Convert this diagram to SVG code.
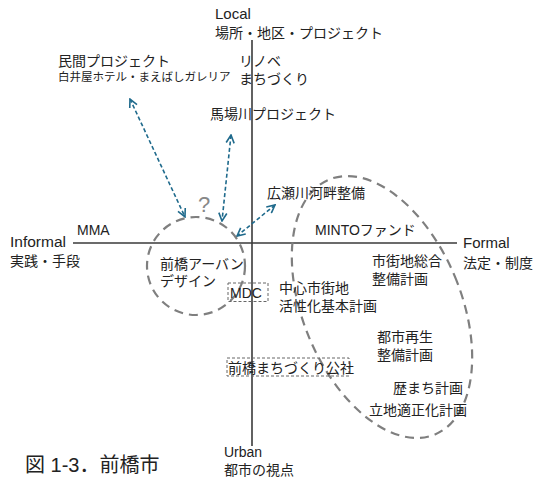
<svg xmlns="http://www.w3.org/2000/svg" width="536" height="481" viewBox="0 0 536 481">
<defs>
<style>
text{font-family:"Liberation Sans","Noto Sans CJK JP",sans-serif;fill:#222;font-size:14px}
.s{font-size:11.5px}
.axis{stroke:#3a3a3a;stroke-width:1.6;fill:none}
.grp{stroke:#7f7f7f;stroke-width:2.2;stroke-dasharray:9 6;fill:none}
.box{stroke:#666;stroke-width:1;stroke-dasharray:3 2;fill:none}
.arr{stroke:#1f6a8c;stroke-width:1.6;stroke-dasharray:4 2.5;fill:none;marker-start:url(#h);marker-end:url(#h)}
</style>
<marker id="h" viewBox="0 0 10 10" refX="9" refY="5" markerWidth="10" markerHeight="10" markerUnits="userSpaceOnUse" orient="auto-start-reverse">
<path d="M1,1 L9,5 L1,9" fill="none" stroke="#1f6a8c" stroke-width="1.6"/>
</marker>
</defs>
<rect width="536" height="481" fill="#fff"/>
<g id="axes">
<line class="axis" x1="252" y1="40" x2="252" y2="446"/>
<line class="axis" x1="73" y1="243" x2="457" y2="243"/>
</g>
<g id="connectors">
<line class="arr" x1="130" y1="99" x2="185" y2="217"/>
<line class="arr" x1="231" y1="135" x2="222" y2="221"/>
<line class="arr" x1="275" y1="205" x2="237" y2="236"/>
</g>
<g id="informal-group">
<circle class="grp" cx="196" cy="266" r="49"/>
</g>
<g id="formal-group">
<ellipse class="grp" cx="382" cy="307" rx="79" ry="138" transform="rotate(-22.6 382 307)"/>
</g>
<g id="axis-labels">
<text x="215" y="19" style="font-size:15px">Local</text>
<text x="215" y="38">場所・地区・プロジェクト</text>
<text x="10" y="247" style="font-size:15.5px">Informal</text>
<text x="10" y="266">実践・手段</text>
<text x="463" y="248" style="font-size:15px">Formal</text>
<text x="463" y="268">法定・制度</text>
<text x="224" y="457">Urban</text>
<text x="224" y="475">都市の視点</text>
</g>
<g id="caption"><text x="25" y="472" style="font-size:20px">図 1-3．前橋市</text></g>
<g id="minkan">
<text x="58" y="66">民間プロジェクト</text>
<text class="s" x="58" y="81">白井屋ホテル・まえばしガレリア</text>
</g>
<g id="renove">
<text x="239" y="66">リノベ</text>
<text x="239" y="84">まちづくり</text>
</g>
<g id="babagawa"><text x="210" y="119">馬場川プロジェクト</text></g>
<g id="hirosegawa"><text x="267" y="198">広瀬川河畔整備</text></g>
<g id="question"><text x="198" y="212" style="font-size:22px;fill:#888">?</text></g>
<g id="mma"><text x="77" y="235">MMA</text></g>
<g id="minto"><text x="315" y="235">MINTOファンド</text></g>
<g id="urbandesign">
<text x="160" y="269">前橋アーバン</text>
<text x="160" y="286">デザイン</text>
</g>
<g id="mdc">
<rect class="box" x="228" y="283" width="40" height="18.5"/>
<text x="230" y="298">MDC</text>
</g>
<g id="kosha">
<rect class="box" x="227" y="358" width="122" height="18"/>
<text x="228" y="373">前橋まちづくり公社</text>
</g>
<g id="shigaichi">
<text x="372" y="266">市街地総合</text>
<text x="372" y="284">整備計画</text>
</g>
<g id="chushin">
<text x="279" y="293">中心市街地</text>
<text x="279" y="311">活性化基本計画</text>
</g>
<g id="toshi">
<text x="377" y="342">都市再生</text>
<text x="377" y="360">整備計画</text>
</g>
<g id="rekimachi"><text x="393" y="393">歴まち計画</text></g>
<g id="ritchi"><text x="369" y="415">立地適正化計画</text></g>
</svg>
